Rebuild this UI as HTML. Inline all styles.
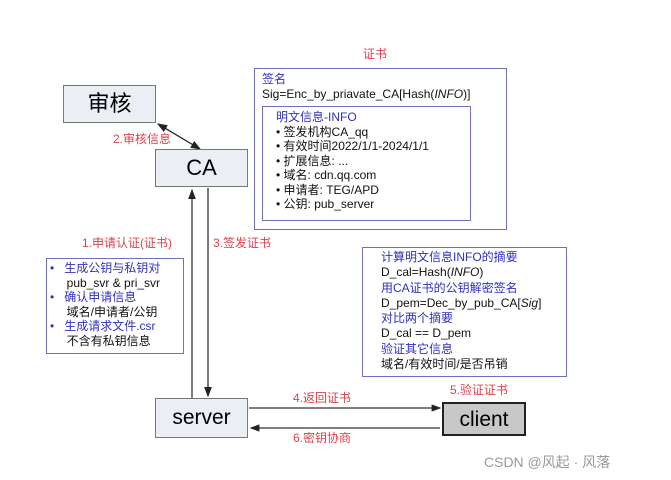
<!DOCTYPE html><html><head><meta charset="utf-8"><style>
body{margin:0;width:671px;height:480px;background:#fff;position:relative;overflow:hidden;font-family:"Liberation Sans","Noto Sans CJK SC",sans-serif}
div{position:absolute;box-sizing:border-box}
.box{background:#eceef6;border:1.5px solid #777;text-align:center}
.r{color:#e0404a;font-size:12px}
.b{color:#3030c0}
.k{color:#111}
.t{font-size:12px;line-height:14.5px;white-space:nowrap}
</style></head><body>
<svg style="position:absolute;left:0;top:0" width="671" height="480">
<defs><marker id="a" markerWidth="8" markerHeight="8" refX="7" refY="4" orient="auto-start-reverse"><path d="M0,1 L8,4 L0,7z" fill="#222"/></marker></defs>
<line x1="158" y1="124" x2="200" y2="149" stroke="#222" stroke-width="1.3" marker-end="url(#a)" marker-start="url(#a)"/>
<line x1="192" y1="398" x2="192" y2="190" stroke="#333" stroke-width="1.3" marker-end="url(#a)"/>
<line x1="208" y1="188" x2="208" y2="396" stroke="#333" stroke-width="1.3" marker-end="url(#a)"/>
<line x1="249" y1="408" x2="440" y2="408" stroke="#333" stroke-width="1.2" marker-end="url(#a)"/>
<line x1="440" y1="428" x2="251" y2="428" stroke="#333" stroke-width="1.2" marker-end="url(#a)"/>
</svg>
<div class="box" style="left:63px;top:85px;width:93px;height:38px;font-size:22px;line-height:35px">审核</div>
<div class="box" style="left:155px;top:149px;width:93px;height:38px;font-size:22px;line-height:35px">CA</div>
<div class="box" style="left:155px;top:398px;width:93px;height:40px;font-size:21px;line-height:37px">server</div>
<div class="box" style="left:442px;top:402px;width:84px;height:34px;font-size:21px;line-height:31px;background:#c8c8c8;border:2px solid #222">client</div>
<div class="r" style="left:363px;top:45px">证书</div>
<div class="r" style="left:113px;top:130px">2.审核信息</div>
<div class="r" style="left:82px;top:234px">1.申请认证(证书)</div>
<div class="r" style="left:213px;top:234px">3.签发证书</div>
<div class="r" style="left:293px;top:389px">4.返回证书</div>
<div class="r" style="left:293px;top:429px">6.密钥协商</div>
<div class="r" style="left:450px;top:381px">5.验证证书</div>
<div style="left:254px;top:68px;width:253px;height:162px;border:1.5px solid #7070c0"></div>
<div class="t" style="left:262px;top:72px"><span class="b">签名</span><br><span class="k">Sig=Enc_by_priavate_CA[Hash(<i>INFO</i>)]</span></div>
<div style="left:262px;top:106px;width:209px;height:115px;border:1.5px solid #7070c0"></div>
<div class="t k" style="left:276px;top:110px"><span class="b">明文信息-INFO</span><br>• 签发机构CA_qq<br>• 有效时间2022/1/1-2024/1/1<br>• 扩展信息: ...<br>• 域名: cdn.qq.com<br>• 申请者: TEG/APD<br>• 公钥: pub_server</div>
<div style="left:46px;top:258px;width:138px;height:96px;border:1.5px solid #7070c0"></div>
<div class="t k" style="left:50px;top:261px"><span class="b">•&nbsp;&nbsp; 生成公钥与私钥对</span><br>&nbsp;&nbsp;&nbsp;&nbsp;&nbsp;pub_svr &amp; pri_svr<br><span class="b">•&nbsp;&nbsp; 确认申请信息</span><br>&nbsp;&nbsp;&nbsp;&nbsp;&nbsp;域名/申请者/公钥<br><span class="b">•&nbsp;&nbsp; 生成请求文件.csr</span><br>&nbsp;&nbsp;&nbsp;&nbsp;&nbsp;不含有私钥信息</div>
<div style="left:362px;top:247px;width:205px;height:130px;border:1.5px solid #7070c0"></div>
<div class="t k" style="left:381px;top:250px;line-height:15.3px"><span class="b">计算明文信息INFO的摘要</span><br>D_cal=Hash(<i>INFO</i>)<br><span class="b">用CA证书的公钥解密签名</span><br>D_pem=Dec_by_pub_CA[<i>Sig</i>]<br><span class="b">对比两个摘要</span><br>D_cal == D_pem<br><span class="b">验证其它信息</span><br>域名/有效时间/是否吊销</div>
<div style="left:484px;top:452px;font-size:14px;color:#999">CSDN @风起 · 风落</div>
</body></html>
